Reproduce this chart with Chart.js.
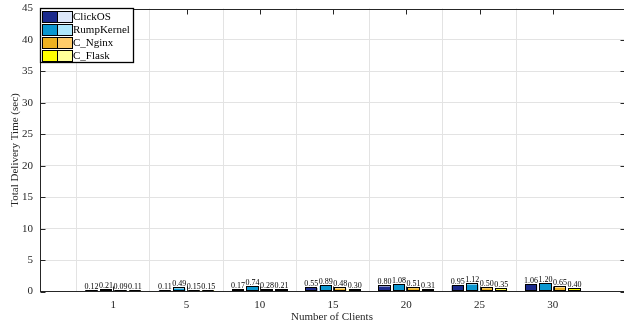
<!DOCTYPE html>
<html>
<head>
<meta charset="utf-8">
<script src="https://cdn.jsdelivr.net/npm/chart.js@4/dist/chart.umd.min.js"></script>
<style>
  html, body { margin: 0; padding: 0; background: #fff; overflow: hidden; }
  #wrap { width: 627px; height: 326px; }
</style>
</head>
<body>
<div id="wrap"><canvas id="c" width="627" height="326"></canvas></div>
<script>
// Number of clients on the x axis
const clients = ['1', '5', '10', '15', '20', '25', '30'];

// Total delivery time (sec) per platform
const clickOS    = [0.12, 0.11, 0.17, 0.55, 0.80, 0.95, 1.06];
const rumpKernel = [0.21, 0.49, 0.74, 0.89, 1.08, 1.12, 1.20];
const cNginx     = [0.09, 0.15, 0.28, 0.48, 0.51, 0.50, 0.65];
const cFlask     = [0.11, 0.15, 0.21, 0.30, 0.31, 0.35, 0.40];

const seriesNames = ['ClickOS', 'RumpKernel', 'C_Nginx', 'C_Flask'];
const yTicks = [0, 5, 10, 15, 20, 25, 30, 35, 40, 45];

const fills  = ['#1b2a8c', '#0a97d0', '#edb120', '#ffff00'];
const lights = ['#dde7f9', '#aee7fb', '#fecc6a', '#ffff99'];
const ink = '#262626';
const serif = "'Liberation Serif', 'Times New Roman', serif";

// one empty slot on each side of the client categories
const pad = arr => [null, ...arr, null];
const labels = ['', ...clients, ''];

const seriesData = [clickOS, rumpKernel, cNginx, cFlask];

const datasets = seriesData.map((d, i) => ({
  label: seriesNames[i],
  data: pad(d),
  backgroundColor: fills[i],
  borderWidth: 0,
  categoryPercentage: 0.79,
  barPercentage: 0.84
}));

const frame = {
  id: 'frame',
  afterDatasetsDraw(chart) {
    const { ctx, chartArea: a, scales: { x, y } } = chart;
    ctx.save();
    // bar outlines
    ctx.strokeStyle = '#000';
    ctx.lineWidth = 1;
    chart.data.datasets.forEach((ds, i) => {
      chart.getDatasetMeta(i).data.forEach((el, j) => {
        if (ds.data[j] == null) return;
        const p = el.getProps(['x', 'y', 'base', 'width'], true);
        const l = Math.round(p.x - p.width / 2) + 0.5;
        const r = Math.round(p.x + p.width / 2) - 0.5;
        const t = Math.round(p.y) - 0.5;
        const b = Math.round(p.base) - 0.5;
        ctx.strokeRect(l, t, r - l, b - t);
      });
    });

    // box and inward ticks
    ctx.strokeStyle = ink;
    ctx.lineWidth = 1;
    const L = Math.round(a.left) + 0.5, R = Math.round(a.right) - 0.5;
    const T = Math.round(a.top) + 0.5, B = Math.round(a.bottom) - 0.5;
    ctx.strokeRect(L, T, R - L, B - T);
    ctx.beginPath();
    yTicks.forEach(v => {
      const py = Math.round(y.getPixelForValue(v)) + 0.5;
      ctx.moveTo(L, py); ctx.lineTo(L + 5, py);
      ctx.moveTo(R, py); ctx.lineTo(R - 5, py);
    });
    clients.forEach((c, i) => {
      const px = Math.round(x.getPixelForValue(i + 1)) + 0.5;
      ctx.moveTo(px, B); ctx.lineTo(px, B - 5);
      ctx.moveTo(px, T); ctx.lineTo(px, T + 5);
    });
    ctx.stroke();

    // value labels above each bar
    ctx.fillStyle = '#000';
    ctx.font = '8px ' + serif;
    ctx.textAlign = 'center';
    ctx.textBaseline = 'alphabetic';
    chart.data.datasets.forEach((ds, i) => {
      chart.getDatasetMeta(i).data.forEach((el, j) => {
        const v = ds.data[j];
        if (v == null) return;
        const p = el.getProps(['x', 'y'], true);
        ctx.fillText(v.toFixed(2), p.x, p.y - 2);
      });
    });

    // axis titles
    ctx.fillStyle = ink;
    ctx.font = '11px ' + serif;
    ctx.textBaseline = 'middle';
    ctx.fillText('Number of Clients', (a.left + 624) / 2, 317);
    ctx.save();
    ctx.translate(15, (a.top + a.bottom) / 2);
    ctx.rotate(-Math.PI / 2);
    ctx.fillText('Total Delivery Time (sec)', 0, 0);
    ctx.restore();

    // legend with paired swatches
    const lx = 40.5, ly = 8.5, lw = 93, rowH = 13.3;
    ctx.fillStyle = '#fff';
    ctx.fillRect(lx, ly, lw, 54);
    seriesNames.forEach((name, i) => {
      const sy = Math.round(ly + 2 + i * rowH) + 0.5;
      ctx.fillStyle = fills[i];
      ctx.fillRect(42.5, sy, 15, 11);
      ctx.fillStyle = lights[i];
      ctx.fillRect(57.5, sy, 15, 11);
      ctx.strokeStyle = '#000';
      ctx.lineWidth = 1;
      ctx.strokeRect(42.5, sy, 15, 11);
      ctx.strokeRect(57.5, sy, 15, 11);
      ctx.fillStyle = '#000';
      ctx.font = '11px ' + serif;
      ctx.textAlign = 'left';
      ctx.textBaseline = 'middle';
      ctx.fillText(name, 73, sy + 6);
    });
    ctx.strokeStyle = '#000';
    ctx.lineWidth = 1.3;
    ctx.strokeRect(lx, ly, lw, 54);
    ctx.restore();
  }
};

new Chart(document.getElementById('c'), {
  type: 'bar',
  data: { labels, datasets },
  options: {
    responsive: false,
    animation: false,
    events: [],
    layout: { padding: { top: 8.5, right: 1, left: 0, bottom: 0 } },
    plugins: { legend: { display: false }, tooltip: { enabled: false } },
    scales: {
      x: {
        offset: false,
        afterFit: s => { s.height = 34.5; s.paddingRight = 0; s.paddingLeft = 0; },
        border: { display: false },
        grid: {
          drawTicks: true,
          tickLength: 7,
          tickColor: 'rgba(0,0,0,0)',
          color: c => (c.index === 0 || c.index === labels.length - 1) ? 'rgba(0,0,0,0)' : '#e3e3e3',
          lineWidth: 1
        },
        ticks: {
          autoSkip: false,
          maxRotation: 0,
          padding: 0,
          color: ink,
          font: { family: serif, size: 11 }
        }
      },
      y: {
        min: 0,
        max: 45,
        afterFit: s => { s.width = 40; s.paddingTop = 0; s.paddingBottom = 0; },
        afterBuildTicks: s => { s.ticks = yTicks.map(v => ({ value: v })); },
        border: { display: false },
        grid: {
          drawTicks: false,
          color: c => (c.tick && (c.tick.value === 0 || c.tick.value === 45)) ? 'rgba(0,0,0,0)' : '#e3e3e3',
          lineWidth: 1
        },
        ticks: {
          padding: 7,
          color: ink,
          font: { family: serif, size: 11 }
        }
      }
    }
  },
  plugins: [frame]
});
</script>
</body>
</html>
